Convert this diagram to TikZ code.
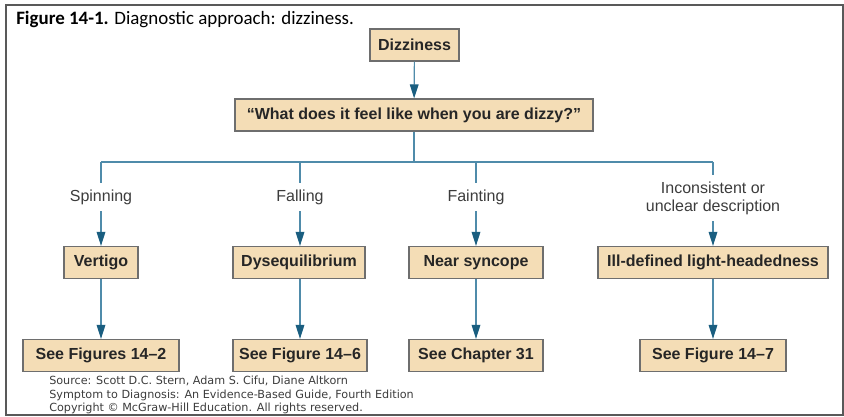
\documentclass[tikz,border=0pt]{standalone}
\usepackage{fontspec}
\setmainfont{Liberation Sans}
\newfontfamily\captionfont{Carlito}
\newfontfamily\sourcefont{DejaVu Sans}
\usetikzlibrary{arrows.meta}

\definecolor{boxfill}{HTML}{F4DDB6}
\definecolor{boxline}{HTML}{6E6E6E}
\definecolor{wire}{HTML}{4F8BAA}
\definecolor{tip}{HTML}{1A5E80}
\definecolor{ink}{HTML}{262626}

\begin{document}
\begin{tikzpicture}[x=0.75pt, y=-0.75pt,
    every path/.style={-{Triangle[width=6.5pt, length=10.5pt, color=tip]}},
    box/.style={draw=boxline, fill=boxfill, line width=0.9pt, text=ink, font=\bfseries\fontsize{12}{14}\selectfont, minimum height=24pt, inner xsep=3pt},
    answer/.style={text=ink!90, font=\fontsize{12}{13.5}\selectfont, align=center, inner sep=5pt},
    wire/.style={draw=wire, line width=0.9pt}]
    \useasboundingbox (0, 0) rectangle (844, 417);
    \draw [-{}, draw=black!65, line width=0.9pt] (6, 5) rectangle (843, 415);

    \node (caption) [anchor=base west, inner sep=0pt, at={(16, 25)}, font=\captionfont\fontsize{14.2}{16}\selectfont] {\textbf{Figure 14-1.} Diagnostic approach: dizziness.};

    \node (dizziness) [box, minimum width=66.75pt, at={(414.5, 45)}] {Dizziness};
    \node (question) [box, minimum width=268.5pt, at={(414, 115)}] {“What does it feel like when you are dizzy?”};

    \node (spinning) [answer, at={(101, 197)}] {Spinning};
    \node (falling) [answer, at={(300, 197)}] {Falling};
    \node (fainting) [answer, at={(476, 197)}] {Fainting};
    \node (unclear) [answer, at={(713, 198)}] {Inconsistent or\\unclear description};

    \node (vertigo) [box, minimum width=55.5pt, at={(101, 262.5)}] {Vertigo};
    \node (dysequilibrium) [box, minimum width=99pt, at={(299, 262.5)}] {Dysequilibrium};
    \node (near-syncope) [box, minimum width=100.5pt, at={(476, 262.5)}] {Near syncope};
    \node (ill-defined) [box, minimum width=172.5pt, at={(713, 262.5)}] {Ill-defined light-headedness};

    \node (see-14-2) [box, minimum width=117pt, at={(101, 355.5)}] {See Figures 14–2};
    \node (see-14-6) [box, minimum width=100.5pt, at={(300, 355.5)}] {See Figure 14–6};
    \node (see-ch-31) [box, minimum width=100.5pt, at={(476, 355.5)}] {See Chapter 31};
    \node (see-14-7) [box, minimum width=109.5pt, at={(713, 355.5)}] {See Figure 14–7};

    \coordinate (hub) at (414, 162);
    \coordinate (hub-spinning) at (101, 162);
    \coordinate (hub-falling) at (300, 162);
    \coordinate (hub-fainting) at (476, 162);
    \coordinate (hub-unclear) at (713, 162);

    \draw [wire] (dizziness) -- (question);
    \draw [wire, -{}] (question) -- (hub);
    \draw [wire, -{}] (hub-spinning) -- (hub-unclear);
    \draw [wire, -{}] (hub-spinning) -- (spinning);
    \draw [wire, -{}] (hub-falling) -- (falling);
    \draw [wire, -{}] (hub-fainting) -- (fainting);
    \draw [wire, -{}] (hub-unclear) -- (unclear);

    \draw [wire] (spinning) -- (vertigo);
    \draw [wire] (falling) -- (dysequilibrium.north -| falling);
    \draw [wire] (fainting) -- (near-syncope);
    \draw [wire] (unclear) -- (ill-defined);

    \draw [wire] (vertigo) -- (see-14-2);
    \draw [wire] (dysequilibrium.south -| see-14-6) -- (see-14-6);
    \draw [wire] (near-syncope) -- (see-ch-31);
    \draw [wire] (ill-defined) -- (see-14-7);

    \node (source) [anchor=north west, inner sep=0pt, align=left, text=ink!90, at={(49, 376)}, font=\sourcefont\fontsize{8.4}{10.1}\selectfont] {Source: Scott D.C. Stern, Adam S. Cifu, Diane Altkorn\\Symptom to Diagnosis: An Evidence-Based Guide, Fourth Edition\\Copyright © McGraw-Hill Education. All rights reserved.};
\end{tikzpicture}
\end{document}
